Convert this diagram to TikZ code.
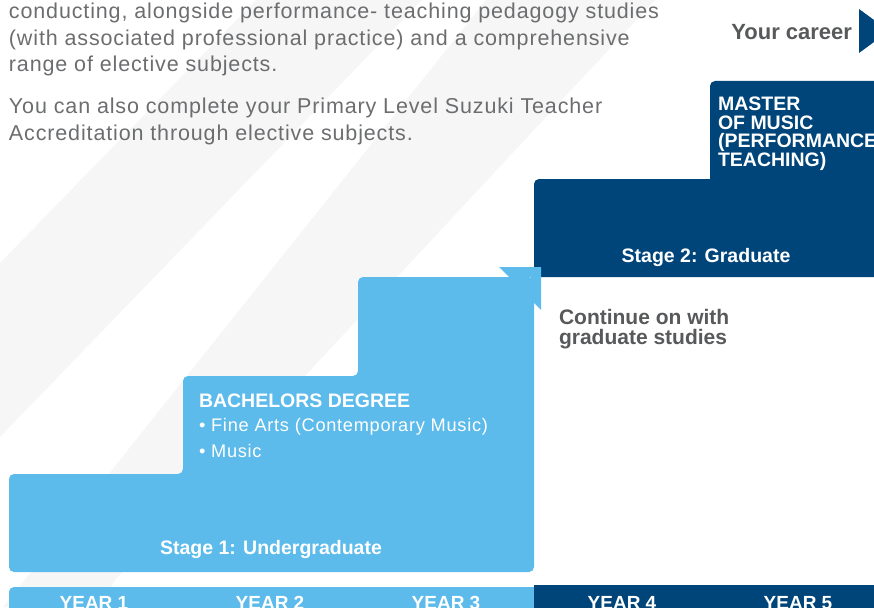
\documentclass[tikz,border=0pt]{standalone}
\usepackage{fontspec}
\setmainfont{Liberation Sans}
\newfontfamily\bodyfont[LetterSpace=4]{Liberation Sans}
\usetikzlibrary{positioning}

\definecolor{stepblue}{RGB}{92,187,235}
\definecolor{gradblue}{RGB}{0,69,122}
\definecolor{stripegrey}{RGB}{246,246,246}
\definecolor{textgrey}{RGB}{108,109,111}
\definecolor{headgrey}{RGB}{88,89,91}

\begin{document}
\begin{tikzpicture}[
    x=1pt, y=-1pt,
    every node/.style={inner sep=0pt, outer sep=0pt},
    bodytext/.style={anchor=base west, text=textgrey, align=left, font=\bodyfont\fontsize{21.5}{26.5}\selectfont},
    headtext/.style={text=headgrey, font=\bfseries\fontsize{21}{20}\selectfont},
    whitehead/.style={text=white, font=\bfseries\fontsize{19.5}{19.5}\selectfont},
    whiteitem/.style={anchor=base west, text=white, font=\bodyfont\fontsize{18.2}{18.2}\selectfont},
    yearlabel/.style={anchor=base, text=white, font=\bfseries\fontsize{19}{19}\selectfont}
]
    \useasboundingbox (0,0) rectangle (874,607);
    \clip (0,0) rectangle (874,607);

    % Background stripes
    \fill[stripegrey] (256,0) -- (422,0) -- (0,437) -- (0,263) -- cycle;
    \fill[stripegrey] (486,0) -- (655,0) -- (115,580) -- (100,607) -- (3,607) -- cycle;

    % Stage 2 blocks
    \fill[gradblue, rounded corners=5] (710,81) rectangle (900,190);
    \fill[gradblue, rounded corners=5] (534,179) rectangle (900,277);

    % Stage 1 stairs
    \fill[stepblue, rounded corners=5] (9,572) -- (9,474) -- (183,474) -- (183,376) -- (358,376)
        -- (358,277) -- (534,277) -- (534,572) -- cycle;
    \fill[stepblue] (499,267) -- (541,267) -- (541,310) -- (531,300) -- (531,277) -- (509,277) -- cycle;

    % Year bar
    \fill[stepblue, rounded corners=5] (9,587) rectangle (560,640);
    \fill[gradblue] (534,585) rectangle (900,640);

    % Career arrow
    \fill[gradblue] (859,9) -- (889,31) -- (859,53) -- cycle;

    % Nodes
    \node[bodytext] (intro) at (9,72) {conducting, alongside performance- teaching pedagogy studies\\
        (with associated professional practice) and a comprehensive\\range of elective subjects.};
    \node[bodytext] (suzuki) at (9,140) {You can also complete your Primary Level Suzuki Teacher\\
        Accreditation through elective subjects.};

    \node[headtext, anchor=base east, font=\bfseries\fontsize{22}{22}\selectfont] (career) at (852,40) {Your career};

    \node[whitehead, anchor=north west, align=left, font=\bfseries\fontsize{19.5}{18.5}\selectfont] (master) at (718,97)
        {MASTER\\OF MUSIC\\(PERFORMANCE\\TEACHING)};
    \node[whitehead, anchor=base] (stage2) at (706,262) {Stage 2: Graduate};
    \node[headtext, anchor=base west, align=left] (continue) at (559,344) {Continue on with\\graduate studies};

    \node[whitehead, anchor=base west] (bachelors) at (199,407) {BACHELORS DEGREE};
    \node[whiteitem] (finearts) at (199,431) {\textbullet\ Fine Arts (Contemporary Music)};
    \node[whiteitem] (music) at (199,457) {\textbullet\ Music};
    \node[whitehead, anchor=base] (stage1) at (271,554) {Stage 1: Undergraduate};

    \foreach \n in {1,...,5}
        \node[yearlabel] (year\n) at ({94+176*(\n-1)},609) {YEAR \n};
\end{tikzpicture}
\end{document}
